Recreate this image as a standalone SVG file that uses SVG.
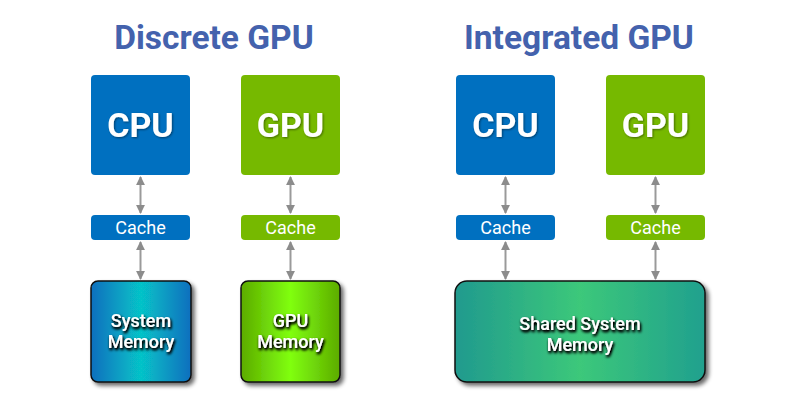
<svg xmlns="http://www.w3.org/2000/svg" width="800" height="400" viewBox="0 0 800 400">
<defs>
  <marker id="ah" viewBox="0 0 10 10" refX="9" refY="5" markerWidth="4.5" markerHeight="4.5" orient="auto-start-reverse" markerUnits="strokeWidth">
    <path d="M0,0 L10,5 L0,10 z" fill="#8c8c8c"/>
  </marker>
  <linearGradient id="gSys" x1="0" y1="0" x2="1" y2="0">
    <stop offset="0" stop-color="#0a6fbe"/>
    <stop offset="0.5" stop-color="#06c3c8"/>
    <stop offset="1" stop-color="#0a6fbe"/>
  </linearGradient>
  <linearGradient id="gGpu" x1="0" y1="0" x2="1" y2="0">
    <stop offset="0" stop-color="#5cab00"/>
    <stop offset="0.5" stop-color="#80ff10"/>
    <stop offset="1" stop-color="#5cab00"/>
  </linearGradient>
  <linearGradient id="gShr" x1="0" y1="0" x2="1" y2="0">
    <stop offset="0" stop-color="#209a8e"/>
    <stop offset="0.5" stop-color="#3cc87a"/>
    <stop offset="1" stop-color="#20a08e"/>
  </linearGradient>
  <filter id="boxShadow" x="-10%" y="-10%" width="130%" height="130%">
    <feGaussianBlur in="SourceAlpha" stdDeviation="2"/>
    <feOffset dx="3" dy="3" result="b"/>
    <feComponentTransfer><feFuncA type="linear" slope="0.6"/></feComponentTransfer>
    <feMerge><feMergeNode/><feMergeNode in="SourceGraphic"/></feMerge>
  </filter>
  <filter id="txtGlow" x="-20%" y="-30%" width="140%" height="160%">
    <feGaussianBlur in="SourceAlpha" stdDeviation="1.5"/>
    <feOffset dx="1" dy="1.5"/>
    <feComponentTransfer><feFuncA type="linear" slope="1.6"/></feComponentTransfer>
    <feMerge><feMergeNode/><feMergeNode in="SourceGraphic"/></feMerge>
  </filter>
  <filter id="txtSoft" x="-20%" y="-30%" width="140%" height="160%">
    <feGaussianBlur in="SourceAlpha" stdDeviation="1"/>
    <feOffset dx="1" dy="1"/>
    <feComponentTransfer><feFuncA type="linear" slope="0.45"/></feComponentTransfer>
    <feMerge><feMergeNode/><feMergeNode in="SourceGraphic"/></feMerge>
  </filter>
</defs>
<style>
  .title{font-family:Roboto,"Liberation Sans",sans-serif;font-weight:bold;font-size:33.5px;fill:#4462ad;text-anchor:middle}
  .big{font-family:Roboto,"Liberation Sans",sans-serif;font-weight:bold;font-size:34px;fill:#ffffff;text-anchor:middle;filter:url(#txtSoft)}
  .cache{font-family:Roboto,"Liberation Sans",sans-serif;font-size:18px;fill:#ffffff;text-anchor:middle}
  .mem{font-family:Roboto,"Liberation Sans",sans-serif;font-weight:500;font-size:18px;fill:#ffffff;text-anchor:middle;filter:url(#txtGlow)}
  .cpu{fill:#0070c0}
  .gpu{fill:#76b900}
  .memBox{stroke:#111;stroke-width:1.5;filter:url(#boxShadow)}
  .conn line{stroke:#9a9a9a;stroke-width:2;marker-start:url(#ah);marker-end:url(#ah)}
</style>
<rect width="800" height="400" fill="#ffffff"/>

<text class="title" x="214" y="49">Discrete GPU</text>
<text class="title" x="579" y="49">Integrated GPU</text>

<g id="d-cpu"><rect class="cpu" x="91" y="75" width="99" height="100" rx="4"/><text class="big" x="140.5" y="137">CPU</text></g>
<g id="d-gpu"><rect class="gpu" x="241" y="75" width="99" height="100" rx="4"/><text class="big" x="290.5" y="137">GPU</text></g>
<g id="d-cpu-cache"><rect class="cpu" x="91" y="215" width="99" height="25" rx="4"/><text class="cache" x="140.5" y="234">Cache</text></g>
<g id="d-gpu-cache"><rect class="gpu" x="241" y="215" width="99" height="25" rx="4"/><text class="cache" x="290.5" y="234">Cache</text></g>
<g id="d-sysmem"><rect class="memBox" fill="url(#gSys)" x="91" y="281" width="100" height="101" rx="7"/><text class="mem" x="141" y="327">System</text><text class="mem" x="141" y="348">Memory</text></g>
<g id="d-gpumem"><rect class="memBox" fill="url(#gGpu)" x="241" y="281" width="99" height="101" rx="7"/><text class="mem" x="290.5" y="327">GPU</text><text class="mem" x="290.5" y="348">Memory</text></g>

<g id="i-cpu"><rect class="cpu" x="456" y="75" width="99" height="100" rx="4"/><text class="big" x="505.5" y="137">CPU</text></g>
<g id="i-gpu"><rect class="gpu" x="606" y="75" width="99" height="100" rx="4"/><text class="big" x="655.5" y="137">GPU</text></g>
<g id="i-cpu-cache"><rect class="cpu" x="456" y="215" width="99" height="25" rx="4"/><text class="cache" x="505.5" y="234">Cache</text></g>
<g id="i-gpu-cache"><rect class="gpu" x="606" y="215" width="99" height="25" rx="4"/><text class="cache" x="655.5" y="234">Cache</text></g>
<g id="i-sharedmem"><rect class="memBox" fill="url(#gShr)" x="455" y="281" width="250" height="101" rx="12"/><text class="mem" x="580" y="330">Shared System</text><text class="mem" x="580" y="351">Memory</text></g>

<g id="connectors" class="conn">
  <line x1="140.5" y1="177" x2="140.5" y2="213"/>
  <line x1="140.5" y1="242" x2="140.5" y2="279"/>
  <line x1="290.5" y1="177" x2="290.5" y2="213"/>
  <line x1="290.5" y1="242" x2="290.5" y2="279"/>
  <line x1="505.5" y1="177" x2="505.5" y2="213"/>
  <line x1="505.5" y1="242" x2="505.5" y2="279"/>
  <line x1="655.5" y1="177" x2="655.5" y2="213"/>
  <line x1="655.5" y1="242" x2="655.5" y2="279"/>
</g>
</svg>
